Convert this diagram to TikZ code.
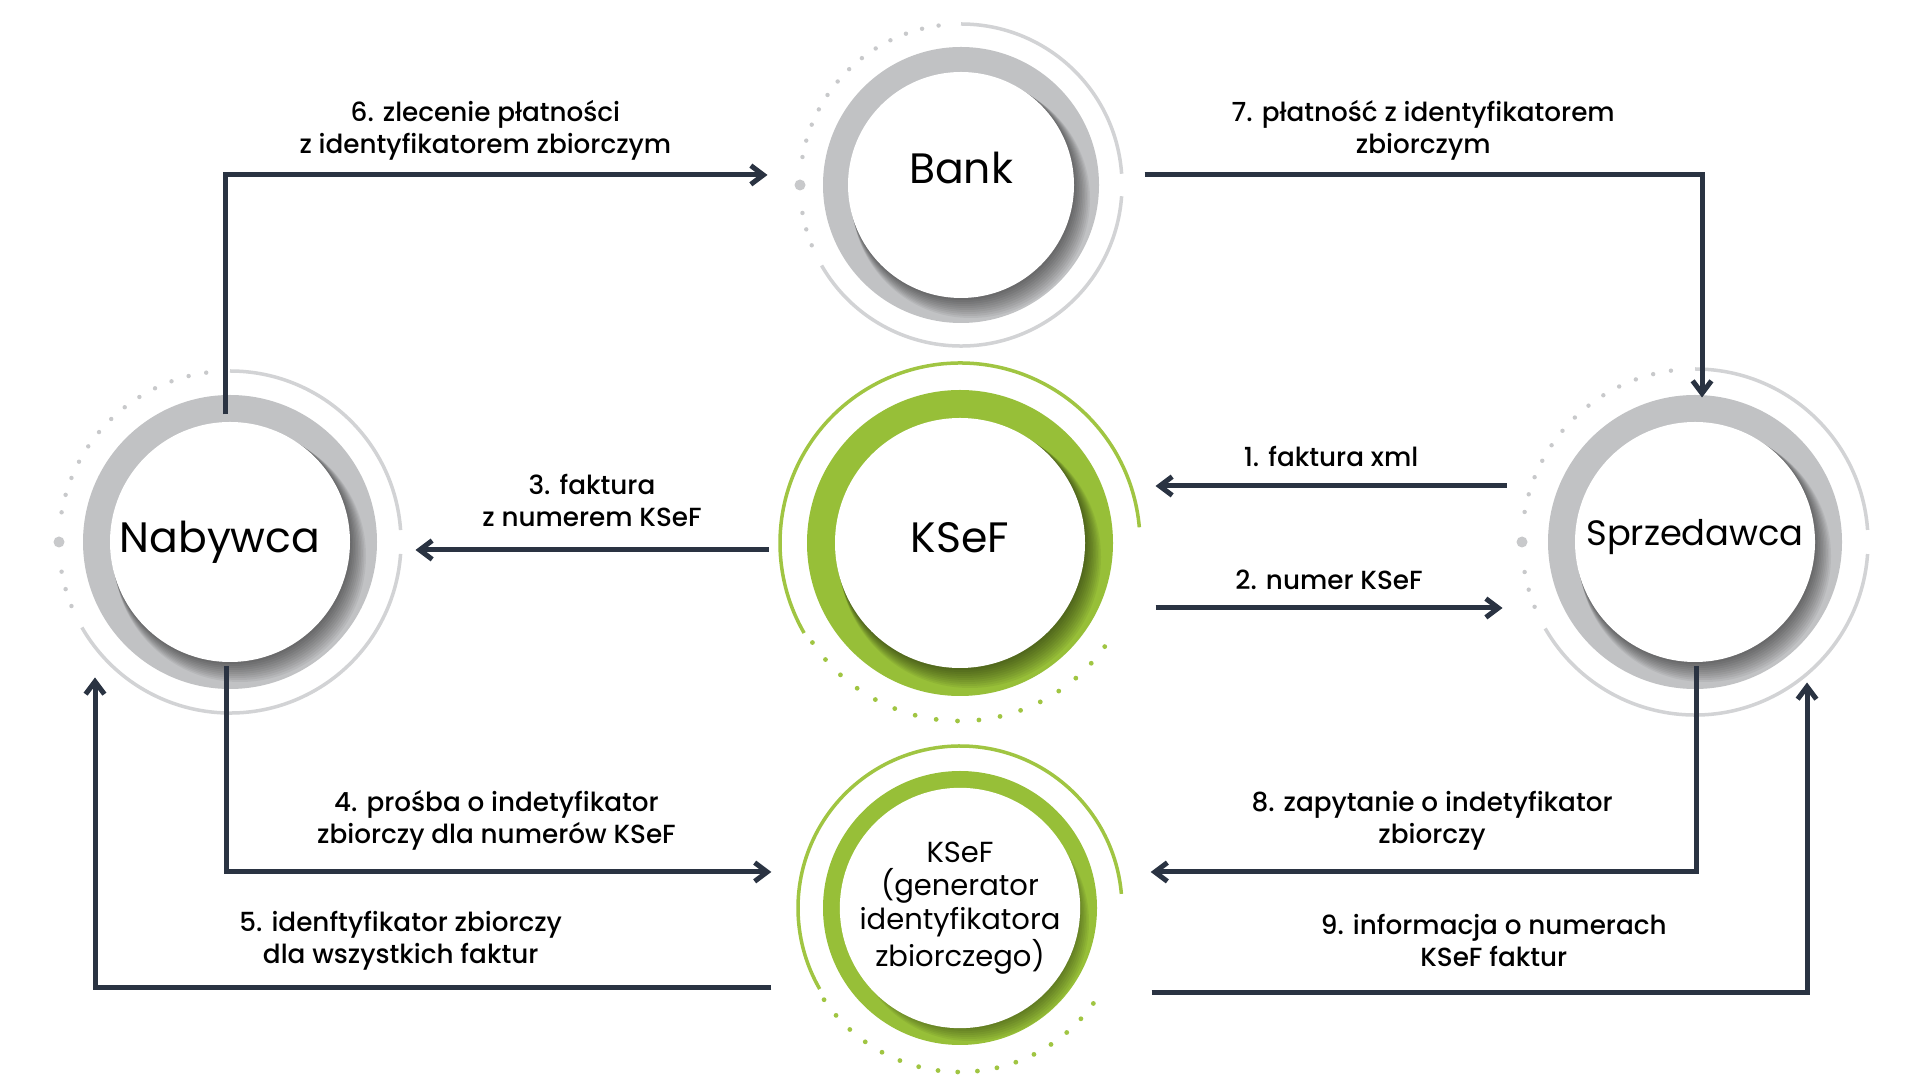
\documentclass[tikz,border=0pt]{standalone}
\usepackage{fontspec}
\setmainfont{Poppins}
\IfFontExistsTF{Poppins Medium}{\newfontfamily\labfont{Poppins Medium}}{\newfontfamily\labfont{Poppins}[FakeBold=1]}
\usepackage{tikz}
\usetikzlibrary{arrows.meta,backgrounds}

\definecolor{ringgray}{RGB}{193,194,196}
\definecolor{arcgray}{RGB}{210,211,213}
\definecolor{dotgray}{RGB}{200,201,203}
\definecolor{ksefgreen}{RGB}{151,191,56}
\definecolor{arcgreen}{RGB}{160,197,66}
\definecolor{flowblue}{RGB}{42,51,66}

% ring with a soft shadow under a station: node, white r, ring r, colour
\newcommand{\plate}[4]{%
  \fill[#4] (#1) circle (#3);
  \begin{scope}
    \clip (#1) circle (#3);
    \foreach \s in {2,4,...,20}
      \fill[black,opacity=.055] ([shift={(\s*.5,-\s*.7)}]#1) circle (#2+\s*.3);
  \end{scope}}
% thin arc and dots round a gray station: node, arc r
\newcommand{\grayarcs}[2]{%
  \draw[arcgray,line width=1.4pt] ([shift={(4:#2)}]#1) arc (4:90:#2)
    ([shift={(-150:#2)}]#1) arc (-150:-4:#2);
  \foreach \a in {98,104,...,170}
    \fill[dotgray] ([shift={(\a:#2)}]#1) circle (2.2);
  \foreach \a in {190,196,202}
    \fill[dotgray] ([shift={(\a:#2)}]#1) circle (2.2);
  \fill[dotgray] ([shift={(180:#2)}]#1) circle (5.5);}
% thin arc and dots round a green station: node, arc r, dots r
\newcommand{\greenarcs}[3]{%
  \draw[arcgreen,line width=1.4pt] ([shift={(5:#2)}]#1) arc (5:210:#2);
  \foreach \a in {0,...,16}
    \fill[arcgreen] ([shift={(214+\a*6.9:#3)}]#1) circle (2.4);}

\begin{document}
\begin{tikzpicture}[x=0.4pt,y=0.4pt]
	\tikzstyle{station}=[circle,fill=white,inner sep=0pt,font=\fontsize{17}{20}\selectfont]
	\tikzstyle{lbl}=[inner sep=0pt,align=center,text depth=2.7pt,font=\labfont\fontsize{10.5}{12.8}\selectfont]
	\tikzstyle{flow}=[-{Straight Barb[length=5pt,width=7.5pt]},line width=2pt,draw=flowblue]
	\useasboundingbox (0,0) rectangle (1920,1080);
	
	\node[station,minimum size=90.4pt] (bank) at (961,895) {\raisebox{14pt}{Bank}};
	\node[station,minimum size=96pt] (nab) at (230,538) {\kern-8pt Nabywca};
	\node[station,minimum size=96pt,font=\fontsize{14.1}{17}\selectfont] (spr) at (1695,538) {\raisebox{8pt}{Sprzedawca}};
	\node[station,minimum size=100pt] (ksef) at (960,537) {\raisebox{4pt}{KSeF}};
	\node[station,minimum size=90pt,font=\fontsize{11.6}{13.3}\selectfont,align=center] (gen) at (960,172)
		{KSeF\\(generator\\identyfikatora\\zbiorczego)};
	
	\begin{scope}[on background layer]
		\fill[white] (0,0) rectangle (1920,1080);
		\plate{bank}{113}{138}{ringgray} \grayarcs{bank}{161}
		\plate{nab}{120}{147}{ringgray} \grayarcs{nab}{171}
		\plate{spr}{120}{147}{ringgray} \grayarcs{spr}{173}
		\plate{ksef}{125}{153}{ksefgreen} \greenarcs{ksef}{180}{178}
		\plate{gen}{113}{137}{ksefgreen} \greenarcs{gen}{162}{164}
	\end{scope}
	
	\draw[flow] ([shift={(-5,7)}]nab.north) |- node[lbl,pos=.74,above=5pt] (lab6)
		{6. zlecenie płatności\\z identyfikatorem zbiorczym} ([shift={(-80,10)}]bank.west);
	\draw[flow] ([shift={(70,10)}]bank.east) -| node[lbl,pos=.25,above=5pt] (lab7)
		{7. płatność z identyfikatorem\\zbiorczym} ([shift={(7,24)}]spr.north);
	\draw[flow] ([shift={(-68,56)}]spr.west) -- node[lbl,above=4pt] (lab1)
		{1. faktura xml} ([shift={(70,57)}]ksef.east);
	\draw[flow] ([shift={(70,-65)}]ksef.east) -- node[lbl,above=3.6pt] (lab2)
		{2. numer KSeF} ([shift={(-72,-66)}]spr.west);
	\draw[flow] ([shift={(-66,-7)}]ksef.west) -- node[lbl,above=5.5pt] (lab3)
		{3. faktura\\z numerem KSeF} ([shift={(65,-8)}]nab.east);
	\draw[flow] ([shift={(-4,-4)}]nab.south) |- node[lbl,pos=.748,above=7.5pt] (lab4)
		{4. prośba o indetyfikator\\zbiorczy dla numerów KSeF} ([shift={(-68,36)}]gen.west);
	\draw[flow] ([shift={(1,-4)}]spr.south) |- node[lbl,pos=.742,above=7.5pt] (lab8)
		{8. zapytanie o indetyfikator\\zbiorczy} ([shift={(70,36)}]gen.east);
	\draw[flow] ([shift={(-68,-80)}]gen.west) -| node[lbl,pos=.274,above=6pt] (lab5)
		{5. idenftyfikator zbiorczy\\dla wszystkich faktur} ([shift={(-135,-15)}]nab.south);
	\draw[flow] ([shift={(71,-85)}]gen.east) -| node[lbl,pos=.261,above=7pt] (lab9)
		{9. informacja o numerach\\KSeF faktur} ([shift={(112,-20)}]spr.south);
\end{tikzpicture}
\end{document}
